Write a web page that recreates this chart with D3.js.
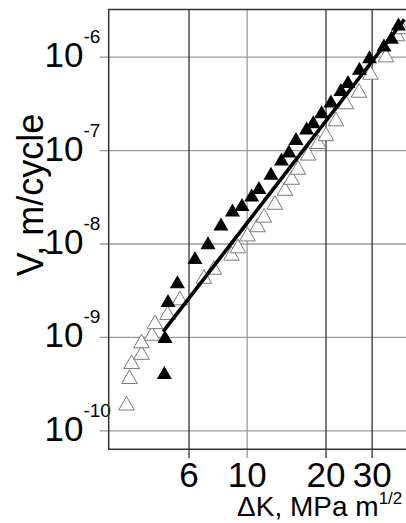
<!DOCTYPE html>
<html lang="en">
<head>
<meta charset="utf-8">
<style>
    body { margin: 0; background: #fff; }
    text { font-family: "Liberation Sans", Arial, sans-serif; fill: #000; }
</style>
</head>
<body>
<script src="https://cdn.jsdelivr.net/npm/d3@7"></script>
<script>
// crack growth rate vs stress intensity range
let filledK = [4.85, 4.88, 5.01, 5.44, 6.35, 7.12, 7.98, 8.83, 9.60, 10.45, 11.14, 12.38, 13.58,
               14.50, 15.43, 16.94, 17.96, 19.33, 20.98, 22.90, 24.36, 26.95, 29.43, 33.42, 35.70, 37.97];
let filledV = [4.16e-10, 1.01e-9, 2.45e-9, 3.90e-9, 7.08e-9, 1.02e-8, 1.62e-8, 2.28e-8, 2.62e-8, 3.30e-8,
               3.98e-8, 5.65e-8, 8.03e-8, 9.78e-8, 1.33e-7, 1.72e-7, 2.01e-7, 2.58e-7, 3.36e-7, 4.46e-7,
               5.42e-7, 7.52e-7, 1.00e-6, 1.33e-6, 1.61e-6, 2.24e-6];

let openK = [3.48, 3.57, 3.64, 3.97, 3.97, 4.35, 4.47, 4.99, 5.56, 6.87, 7.50, 8.75, 9.26, 10.07, 11.00,
             11.64, 12.82, 14.00, 14.85, 15.70, 17.18, 18.77, 20.08, 21.92, 23.93, 26.83, 29.69, 34.02, 37.47, 39.14];
let openV = [1.95e-10, 3.75e-10, 5.42e-10, 6.81e-10, 9.04e-10, 1.09e-9, 1.45e-9, 1.82e-9, 2.61e-9, 4.43e-9,
             5.54e-9, 7.85e-9, 9.40e-9, 1.26e-8, 1.58e-8, 2.00e-8, 2.75e-8, 3.88e-8, 5.09e-8, 6.52e-8,
             9.25e-8, 1.23e-7, 1.49e-7, 2.15e-7, 3.27e-7, 4.35e-7, 6.78e-7, 1.04e-6, 1.75e-6, 2.08e-6];

// fitted line (two ends)
let fitK = [4.8, 40];
let fitV = [1.14e-9, 2.5e-6];

let xTicks = [6, 10, 20, 30];
let xGridDark = [true, false, true, true];
let yTicks = [1e-10, 1e-9, 1e-8, 1e-7, 1e-6];
let yExp = ["-10", "-9", "-8", "-7", "-6"];

let w = 406, h = 523;
let padLeft = 108.7, padTop = 9.5, padBottom = 449.3;

let svg = d3.select("body").append("svg")
    .attr("width", w)
    .attr("height", h);

let x = d3.scaleLog()
    .domain([2.975, 41.5])
    .range([padLeft, padLeft + 262 * Math.log10(41.5 / 2.975)]);

let y = d3.scaleLog()
    .domain([Math.pow(10, -10.203), Math.pow(10, -5.495)])
    .range([padBottom, padTop]);

// y grid + ticks
let yAxis = svg.append("g")
    .attr("transform", `translate(99.5,0)`)
    .call(d3.axisLeft(y).tickValues(yTicks).tickSize(-(w - 99.5)).tickFormat(""));
yAxis.select(".domain").remove();
yAxis.selectAll(".tick line").attr("stroke", "#9a9a9a").attr("stroke-width", 1.3);

// x grid + ticks
let xAxis = svg.append("g")
    .attr("transform", `translate(0,458)`)
    .call(d3.axisBottom(x).tickValues(xTicks).tickSize(-(458 - padTop)).tickPadding(4).tickFormat(d3.format("d")));
xAxis.select(".domain").remove();
xAxis.selectAll(".tick line")
    .attr("stroke", (d, i) => xGridDark[i] ? "#333" : "#9a9a9a")
    .attr("stroke-width", 1.3);
xAxis.selectAll(".tick text")
    .style("font-size", "35px")
    .style("font-family", "Liberation Sans, Arial, sans-serif")
    .attr("fill", "#000");

// y tick labels 10^n
yTicks.forEach((t, i) => {
    let lab = svg.append("text")
        .attr("x", 44.5)
        .attr("y", y(t) + 10.5)
        .style("font-size", "35px");
    lab.append("tspan").text("10");
    lab.append("tspan")
        .attr("dy", -24)
        .style("font-size", "19px")
        .text(yExp[i]);
});

// frame (top, left, bottom)
svg.append("path")
    .attr("d", `M${w},${padTop}H${padLeft}V${padBottom}H${w}`)
    .attr("fill", "none")
    .attr("stroke", "#333")
    .attr("stroke-width", 1.5);

let tri = "M0,-6.8L7.8,6.8L-7.8,6.8Z";

// open triangles
svg.append("g").selectAll("path")
    .data(openK.map((k, i) => [k, openV[i]]))
    .join("path")
    .attr("d", tri)
    .attr("transform", d => `translate(${x(d[0])},${y(d[1])})`)
    .attr("fill", "#fff")
    .attr("stroke", "#7a7a7a")
    .attr("stroke-width", 1);

// fitted line
svg.append("path")
    .datum(fitK.map((k, i) => [k, fitV[i]]))
    .attr("d", d3.line().x(d => x(d[0])).y(d => y(d[1])))
    .attr("fill", "none")
    .attr("stroke", "#000")
    .attr("stroke-width", 3.6);

// filled triangles
svg.append("g").selectAll("path")
    .data(filledK.map((k, i) => [k, filledV[i]]))
    .join("path")
    .attr("d", "M0,-6.5L7.5,6.5L-7.5,6.5Z")
    .attr("transform", d => `translate(${x(d[0])},${y(d[1])})`)
    .attr("fill", "#000");

// axis titles
svg.append("text")
    .attr("transform", "translate(43,195) rotate(-90)")
    .attr("text-anchor", "middle")
    .style("font-size", "36px")
    .text("V, m/cycle");

let xt = svg.append("text")
    .attr("x", 237)
    .attr("y", 516)
    .style("font-size", "28px");
xt.append("tspan").text("\u0394K, MPa m");
xt.append("tspan")
    .attr("dy", -12)
    .style("font-size", "17px")
    .text("1/2");
</script>
</body>
</html>
